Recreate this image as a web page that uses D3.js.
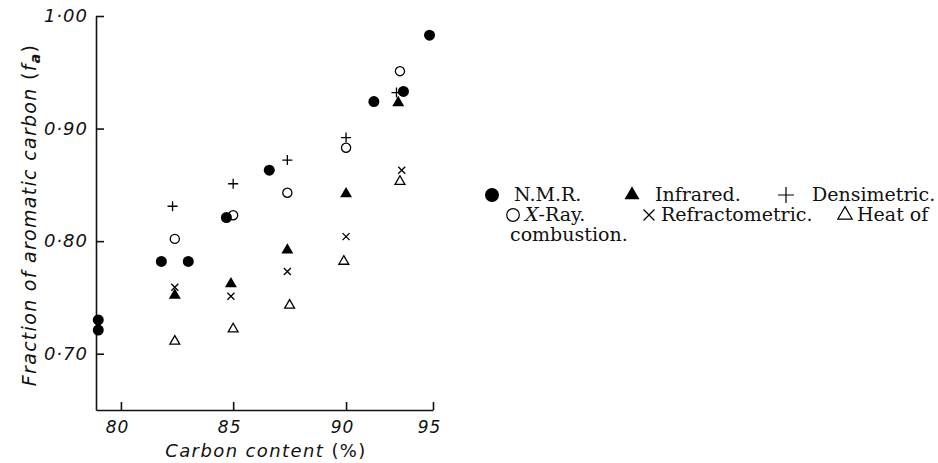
<!DOCTYPE html>
<html>
<head>
<meta charset="utf-8">
<script src="https://cdn.jsdelivr.net/npm/d3@7"></script>
<style>
  body { margin: 0; background: #fff; }
  svg { display: block; }
  .tick text { font-family: "DejaVu Sans", sans-serif; font-style: italic; fill: #111; }
</style>
</head>
<body>
<div id="chart"></div>
<script>
// carbon content (%) vs fraction of aromatic carbon
const nmr = [[79.0, 0.730], [79.0, 0.721], [81.8, 0.782], [83.0, 0.782], [84.7, 0.821],
             [86.6, 0.863], [91.6, 0.924], [93.3, 0.933], [94.8, 0.983]];
const infrared = [[82.4, 0.752], [84.9, 0.762], [87.4, 0.792], [90.0, 0.842], [93.0, 0.923]];
const densimetric = [[82.3, 0.831], [85.0, 0.851], [87.4, 0.872], [90.0, 0.892], [92.9, 0.932]];
const xray = [[82.4, 0.802], [85.0, 0.823], [87.4, 0.843], [90.0, 0.883], [93.1, 0.951]];
const refractometric = [[82.4, 0.759], [84.9, 0.751], [87.4, 0.773], [90.0, 0.804], [93.2, 0.863]];
const heat = [[82.4, 0.711], [85.0, 0.722], [87.5, 0.743], [89.9, 0.782], [93.1, 0.853]];

const xTicks = [80, 85, 90, 95];
const xTickLabels = ["80", "85", "90", "95"];
const yTicks = [0.70, 0.80, 0.90, 1.00];
const yTickLabels = ["0·70", "0·80", "0·90", "1·00"];

const width = 938, height = 463;
const margin = { top: 16, left: 96, bottom: 53, right: 505 };

const svg = d3.select("#chart").append("svg")
    .attr("width", width)
    .attr("height", height);

// the printed x axis is hand drawn: the 90-95 stretch is shorter than the others
const plotW = width - margin.left - margin.right;
const xStops = [0, 0.074, 0.407, 0.742, 1];
const x = d3.scaleLinear()
    .domain([78.9, 80, 85, 90, 95])
    .range(xStops.map(f => margin.left + f * plotW));

const y = d3.scaleLinear()
    .domain([0.65, 1.0])
    .range([height - margin.bottom, margin.top]);

// axes, ticks pointing inward
let xAxis = d3.axisBottom(x)
    .tickValues(xTicks)
    .tickFormat((d, i) => xTickLabels[i])
    .tickSizeInner(-8)
    .tickSizeOuter(0)
    .tickPadding(11);

let yAxis = d3.axisLeft(y)
    .tickValues(yTicks)
    .tickFormat((d, i) => yTickLabels[i])
    .tickSizeInner(-8)
    .tickSizeOuter(0)
    .tickPadding(8);

let gx = svg.append("g")
    .attr("transform", `translate(0, ${height - margin.bottom})`)
    .call(xAxis);
gx.selectAll("text")
    .attr("dx", -4)
    .style("font-size", "17px")
    .style("letter-spacing", "1px");

let gy = svg.append("g")
    .attr("transform", `translate(${margin.left}, 0)`)
    .call(yAxis);
gy.selectAll("text")
    .style("font-size", "18px")
    .style("letter-spacing", "1px");

svg.selectAll(".domain, .tick line")
    .attr("stroke", "#111")
    .attr("stroke-width", 1.6);

// axis titles
svg.append("text")
    .attr("x", 266)
    .attr("y", 457)
    .attr("text-anchor", "middle")
    .style("font-family", "DejaVu Sans, sans-serif")
    .style("font-size", "18px")
    .style("letter-spacing", "1.4px")
    .style("fill", "#111")
    .call(t => {
        t.append("tspan").style("font-style", "italic").text("Carbon content ");
        t.append("tspan").text("(%)");
    });

svg.append("text")
    .attr("transform", "translate(36, 215) rotate(-90)")
    .attr("text-anchor", "middle")
    .style("font-family", "DejaVu Sans, sans-serif")
    .style("font-size", "19px")
    .style("letter-spacing", "1.3px")
    .style("fill", "#111")
    .call(t => {
        t.append("tspan").style("font-style", "italic").text("Fraction of aromatic carbon ");
        t.append("tspan").text("(");
        t.append("tspan").style("font-style", "italic").text("f");
        t.append("tspan").attr("dy", 4).style("font-size", "14px").style("font-weight", "bold")
            .style("font-style", "italic").text("a");
        t.append("tspan").attr("dy", -4).text(")");
    });

// marker styles, one per method (size = plot marker, lsize = legend marker)
const markers = {
    nmr: { type: d3.symbolCircle, size: 95, lsize: 154, filled: true },
    infrared: { type: d3.symbolTriangle, size: 62, lsize: 97, filled: true },
    densimetric: { type: d3.symbolPlus, size: 35, lsize: 85, filled: false },
    xray: { type: d3.symbolCircle, size: 66, lsize: 125, filled: false },
    refractometric: { type: d3.symbolTimes, size: 34, lsize: 80, filled: false },
    heat: { type: d3.symbolTriangle2, size: 70, lsize: 150, filled: false }
};

function drawSeries(data, key) {
    let m = markers[key];
    svg.append("g")
        .attr("class", key)
        .selectAll("path")
        .data(data)
        .enter().append("path")
        .attr("transform", d => `translate(${x(d[0])}, ${y(d[1])})`)
        .attr("d", d3.symbol().type(m.type).size(m.size))
        .attr("fill", m.filled ? "#000" : "none")
        .attr("stroke", m.filled ? "none" : "#000")
        .attr("stroke-width", 1.3);
}

drawSeries(xray, "xray");
drawSeries(heat, "heat");
drawSeries(refractometric, "refractometric");
drawSeries(densimetric, "densimetric");
drawSeries(infrared, "infrared");
drawSeries(nmr, "nmr");

// legend, set as a printed caption
const legendRows = [
    [{ key: "nmr", sx: 492, tx: 514, label: "N.M.R." },
     { key: "infrared", sx: 632, tx: 655, label: "Infrared." },
     { key: "densimetric", sx: 786, tx: 812, label: "Densimetric." }],
    [{ key: "xray", sx: 513, tx: 525, label: "X-Ray." },
     { key: "refractometric", sx: 649, tx: 661, label: "Refractometric." },
     { key: "heat", sx: 845, tx: 857, label: "Heat of" }],
    [{ key: null, tx: 510, label: "combustion." }]
];
const rowBase = [201, 221, 241];

let legend = svg.append("g").attr("class", "legend");

legendRows.forEach((row, r) => {
    row.forEach(item => {
        if (item.key) {
            let m = markers[item.key];
            legend.append("path")
                .attr("transform", `translate(${item.sx}, ${rowBase[r] - 6})`)
                .attr("d", d3.symbol().type(m.type).size(m.lsize))
                .attr("fill", m.filled ? "#000" : "none")
                .attr("stroke", m.filled ? "none" : "#000")
                .attr("stroke-width", 1.2);
        }
        let t = legend.append("text")
            .attr("x", item.tx)
            .attr("y", rowBase[r])
            .style("font-family", "DejaVu Serif, serif")
            .style("font-size", "19px")
            .style("fill", "#111");
        if (item.label === "X-Ray.") {
            t.append("tspan").style("font-style", "italic").text("X");
            t.append("tspan").text("-Ray.");
        } else {
            t.text(item.label);
        }
    });
});
</script>
</body>
</html>
